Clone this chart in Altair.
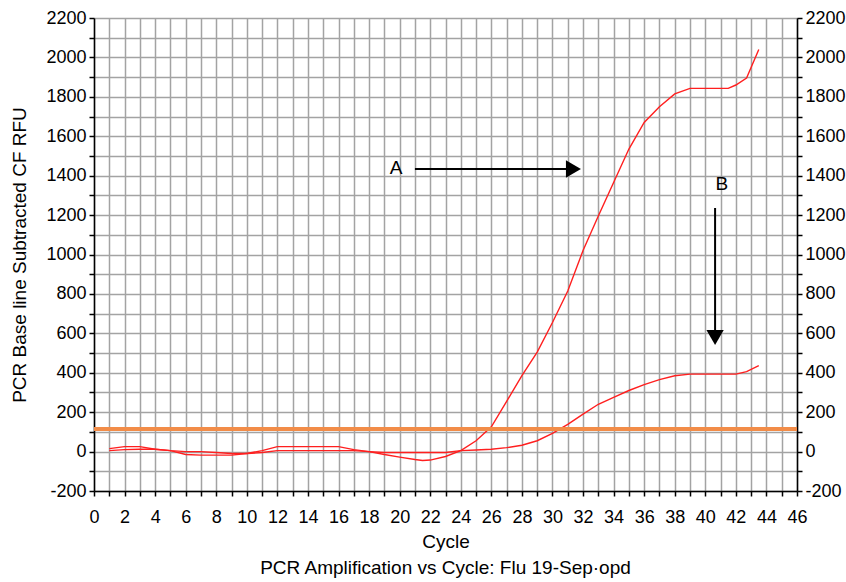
import altair as alt
import pandas as pd

# ---- data ----
cycles_a = [1, 2, 3, 4, 5, 6, 7, 8, 9, 10, 11, 12, 13, 14, 15, 16, 17, 18, 19, 20, 21, 21.5,
            22, 23, 24, 25, 26, 27, 28, 29, 30, 31, 32, 33, 34, 35, 36, 37, 38, 39, 40, 41,
            41.5, 42, 42.7, 43.5]
rfu_a = [15, 25, 25, 12, 5, 0, 0, -5, -10, -10, 5, 25, 25, 25, 25, 25, 10, 0, -15, -28, -40, -45,
         -43, -25, 5, 55, 126, 255, 385, 505, 655, 815, 1020, 1195, 1365, 1535, 1670, 1750, 1815,
         1843, 1843, 1843, 1843, 1860, 1895, 2040]

cycles_b = [1, 2, 3, 4, 5, 6, 7, 8, 9, 10, 11, 12, 13, 14, 15, 16, 17, 18, 19, 20, 21, 22, 23,
            24, 25, 26, 27, 28, 29, 30, 31, 32, 33, 34, 35, 36, 37, 38, 39, 40, 41, 42, 42.7, 43.5]
rfu_b = [5, 10, 12, 12, 5, -15, -18, -18, -18, -10, -5, 5, 5, 5, 5, 5, 5, 0, -5, -5, -5, -5, -5,
         5, 8, 12, 20, 32, 55, 92, 138, 190, 240, 275, 310, 340, 365, 385, 393, 393, 393, 393,
         406, 436]

threshold = [115]

arrow_x = [21.0, 40.64]
arrow_x2 = [31.37, 40.64]
arrow_y = [1434, 1236]
arrow_y2 = [1434, 579]
head_x = [31.37, 40.64]
head_y = [1434, 579]
head_shape = ["triangle-right", "triangle-down"]
label_text = ["A", "B"]
label_x = [19.76, 41.08]
label_y = [1440, 1358]

x_values = list(range(0, 47))
y_values = list(range(-200, 2201, 100))

FONT = "Liberation Sans"
RED = "#ff1f1f"
ORANGE = "#f28c48"

curves = pd.DataFrame(
    {"x": cycles_a + cycles_b,
     "y": rfu_a + rfu_b,
     "series": ["A"] * len(cycles_a) + ["B"] * len(cycles_b)}
)
arrows = pd.DataFrame({"x": arrow_x, "x2": arrow_x2, "y": arrow_y, "y2": arrow_y2})
heads = pd.DataFrame({"x": head_x, "y": head_y, "shape": head_shape})
labels = pd.DataFrame({"x": label_x, "y": label_y, "text": label_text})
thr = pd.DataFrame({"y": threshold})

xscale = alt.Scale(domain=[0, 46], nice=False, zero=False)
yscale = alt.Scale(domain=[-200, 2200], nice=False, zero=False)

ylab = "datum.value % 200 == 0 ? '' + datum.value : ''"

x_axis = alt.Axis(values=x_values, labelExpr="datum.value % 2 == 0 ? '' + datum.value : ''",
                  title="Cycle", grid=True, tickSize=5, labelPadding=12, titlePadding=6,
                  labelFlush=False, labelOverlap=False)
y_axis_left = alt.Axis(values=y_values, labelExpr=ylab,
                       title="PCR Base line Subtracted CF RFU", grid=True, tickSize=5,
                       labelPadding=3, titlePadding=16, labelOverlap=False)
y_axis_right = alt.Axis(values=y_values, labelExpr=ylab,
                        title=None, grid=False, orient="right", tickSize=5, labelPadding=3,
                        labelOverlap=False)

X = alt.X("x:Q", scale=xscale, axis=x_axis, title="Cycle")
Y = alt.Y("y:Q", scale=yscale, axis=y_axis_left, title="PCR Base line Subtracted CF RFU")

lines = alt.Chart(curves).mark_line(color=RED, strokeWidth=1.4).encode(
    x=X, y=Y, detail="series:N",
)

arrow_lines = alt.Chart(arrows).mark_rule(color="black", strokeWidth=2).encode(
    x=X, x2="x2:Q", y=Y, y2="y2:Q",
)

arrow_heads = alt.Chart(heads).mark_point(filled=True, color="black", size=300, opacity=1).encode(
    x=X, y=Y, shape=alt.Shape("shape:N", scale=None),
)

text_labels = alt.Chart(labels).mark_text(font=FONT, fontSize=19, color="black").encode(
    x=X, y=Y, text="text:N",
)

main = alt.layer(lines, arrow_lines, arrow_heads, text_labels)

thr_line = alt.Chart(thr).mark_rule(color=ORANGE, strokeWidth=4).encode(
    y=alt.Y("y:Q", scale=yscale, axis=y_axis_right),
)

chart = (
    alt.layer(main, thr_line)
    .resolve_scale(y="independent")
    .properties(
        width=703,
        height=473,
        autosize=alt.AutoSizeParams(type="none"),
        padding={"left": 94, "top": 18, "right": 49, "bottom": 91},
        title=alt.TitleParams(
            "PCR Amplification vs Cycle: Flu 19-Sep\u00b7opd",
            orient="bottom", font=FONT, fontSize=19, fontWeight="normal",
            color="black", offset=8, anchor="middle",
        ),
    )
    .configure_view(stroke=None)
    .configure_axis(
        labelFont=FONT, labelFontSize=18, labelColor="black",
        titleFont=FONT, titleFontSize=19, titleFontWeight="normal", titleColor="black",
        domainColor="black", domainWidth=1.5, tickColor="black", tickWidth=1.5,
        gridColor="#a3a3a3", gridWidth=1.5, gridOpacity=1,
    )
)

chart.save("out.html", embed_options={"renderer": "svg", "actions": False})
